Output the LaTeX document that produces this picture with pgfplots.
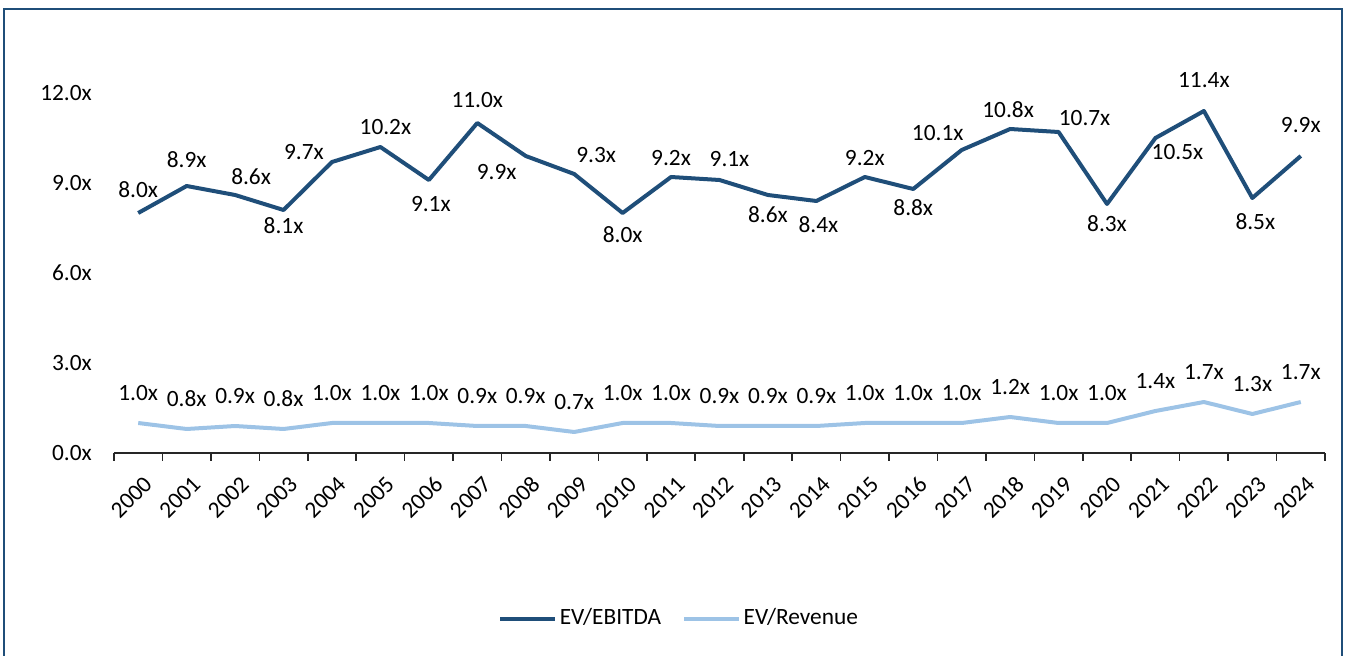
\documentclass[border=0pt]{standalone}
\usepackage{pgfplots}
\pgfplotsset{compat=1.18}
\usepackage{fontspec}
\setmainfont{Carlito}
\definecolor{ebitda}{HTML}{1F4E79}
\definecolor{rev}{HTML}{9DC3E6}
\definecolor{framec}{HTML}{1F4E79}
\begin{document}
\fontsize{17.5}{20}\selectfont
\begin{tikzpicture}
\useasboundingbox (-85.5pt,-152.25pt) rectangle (924.75pt,339.75pt);
\draw[framec, line width=2pt] (-82.5pt,-160pt) -- (-82.5pt,333pt) -- (921pt,333pt) -- (921pt,-160pt);
\begin{axis}[
  at={(0pt,0pt)}, anchor=south west,
  scale only axis, width=908.25pt, height=270pt,
  xmin=-0.5, xmax=24.5, ymin=0, ymax=12,
  clip=false,
  axis x line*=bottom, axis y line*=left,
  y axis line style={draw=none},
  x axis line style={line width=1.2pt, color=black!85, -},
  tick align=outside,
  xtick={0,...,24},
  xticklabels={2000,2001,2002,2003,2004,2005,2006,2007,2008,2009,2010,2011,2012,2013,2014,2015,2016,2017,2018,2019,2020,2021,2022,2023,2024},
  major tick length=0pt,
  major x tick style={draw=none},
  minor xtick={-0.5,0.5,...,24.5},
  minor x tick style={black!85, line width=1.2pt},
  minor tick length=6pt,
  xticklabel style={xshift=7.5pt, yshift=-20.5pt, rotate=45, anchor=east, inner sep=0pt},
  ytick={0,3,6,9,12},
  major y tick style={draw=none},
  yticklabel={\pgfmathprintnumber[fixed,fixed zerofill,precision=1]{\tick}x},
  yticklabel style={anchor=east, inner sep=0pt, xshift=-16.5pt},
  /pgf/number format/assume math mode=true,
  legend style={at={(0.467,-0.46)}, anchor=center, draw=none, fill=none, legend columns=2,
    /tikz/every even column/.append style={column sep=14pt}},
  legend image code/.code={\draw[#1, line width=3pt] (0pt,0pt) -- (41pt,0pt);},
]
\addplot[ebitda, line width=3pt, line join=round, mark=none,
  nodes near coords={\pgfmathprintnumber[fixed,fixed zerofill,precision=1]{\pgfplotspointmeta}x},
  visualization depends on={\thisrow{dx} \as \dx},
  visualization depends on={\thisrow{dy} \as \dy},
  every node near coord/.append style={anchor=center, text=black, inner sep=0pt, xshift={\dx*0.75pt}, yshift={\dy*0.75pt}}]
  table {
x y dx dy
0 8.0 0 23
1 8.9 0 26
2 8.6 16 18
3 8.1 0 -16
4 9.7 -28 10
5 10.2 5 20
6 9.1 2 -24
7 11.0 0 23
8 9.9 -29 -16
9 9.3 22 19
10 8.0 0 -22
11 9.2 0 19
12 9.1 10 21
13 8.6 0 -20
14 8.4 2 -24
15 9.2 0 19
16 8.8 0 -19
17 10.1 -24 17
18 10.8 -2 19
19 10.7 26 14
20 8.3 0 -20
21 10.5 22 -14
22 11.4 0 31
23 8.5 3 -24
24 9.9 0 31
};
\addlegendentry{EV/EBITDA}
\addplot[rev, line width=3pt, line join=round, mark=none,
  nodes near coords={\pgfmathprintnumber[fixed,fixed zerofill,precision=1]{\pgfplotspointmeta}x},
  every node near coord/.append style={anchor=center, text=black, inner sep=0pt, yshift=22.5pt}]
  table {
x y
0 1.0
1 0.8
2 0.9
3 0.8
4 1.0
5 1.0
6 1.0
7 0.9
8 0.9
9 0.7
10 1.0
11 1.0
12 0.9
13 0.9
14 0.9
15 1.0
16 1.0
17 1.0
18 1.2
19 1.0
20 1.0
21 1.4
22 1.7
23 1.3
24 1.7
};
\addlegendentry{EV/Revenue}
\end{axis}
\end{tikzpicture}
\end{document}
